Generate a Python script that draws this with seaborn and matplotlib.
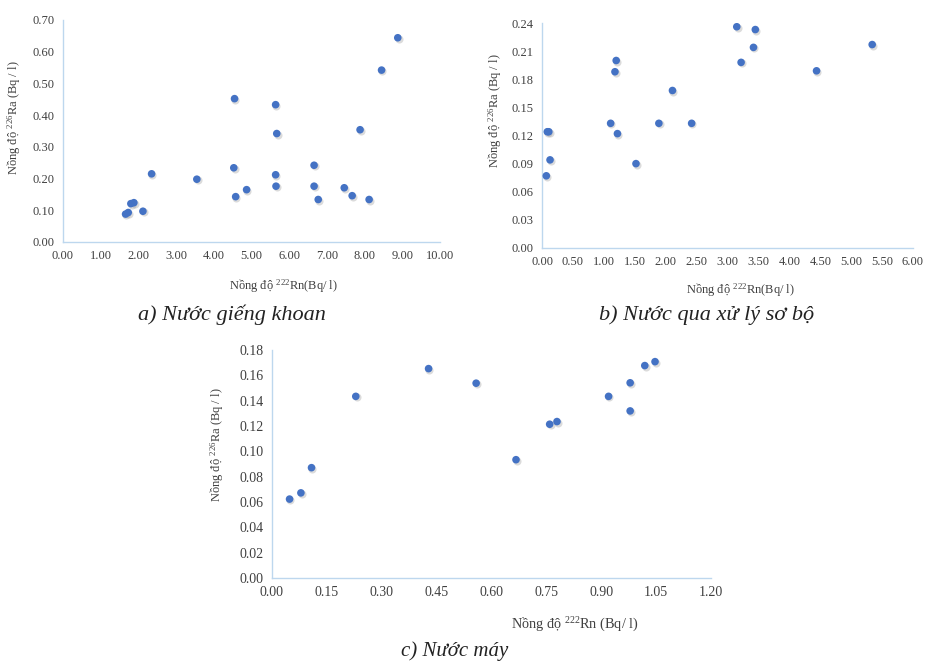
import matplotlib
matplotlib.use('Agg')
import seaborn as sns
import matplotlib.pyplot as plt
from matplotlib.ticker import FormatStrFormatter

# a) Nuoc gieng khoan
rn_a = [1.66, 1.73, 1.80, 1.88, 2.12, 2.35, 3.55, 4.55, 4.53, 4.58, 4.87, 5.64,
        5.67, 5.64, 5.65, 6.66, 6.66, 6.77, 7.46, 7.67, 7.88, 8.12, 8.45, 8.88]
ra_a = [0.088, 0.093, 0.121, 0.124, 0.097, 0.215, 0.198, 0.452, 0.234, 0.143, 0.165, 0.433,
        0.342, 0.212, 0.176, 0.242, 0.176, 0.134, 0.171, 0.146, 0.354, 0.134, 0.542, 0.644]

# b) Nuoc qua xu ly so bo
rn_b = [0.07, 0.086, 0.11, 0.13, 1.11, 1.18, 1.20, 1.22, 1.52, 1.89, 2.11, 2.42,
        3.15, 3.22, 3.42, 3.45, 4.44, 5.34]
ra_b = [0.077, 0.124, 0.124, 0.094, 0.133, 0.188, 0.200, 0.122, 0.090, 0.133, 0.168, 0.133,
        0.236, 0.198, 0.214, 0.233, 0.189, 0.217]

# c) Nuoc may
rn_c = [0.048, 0.079, 0.108, 0.229, 0.428, 0.558, 0.667, 0.759, 0.779, 0.920, 0.979, 0.979,
        1.019, 1.047]
ra_c = [0.0623, 0.0672, 0.0871, 0.1434, 0.1653, 0.1538, 0.0934, 0.1214, 0.1235, 0.1434,
        0.1541, 0.1319, 0.1677, 0.1708]

xlabel_ab = 'Nồng độ $^{222}$Rn(Bq/ l)'
xlabel_c = 'Nồng độ $^{222}$Rn (Bq/ l)'
ylabel = 'Nồng độ $^{226}$Ra (Bq / l)'
captions = ['a) Nước giếng khoan', 'b) Nước qua xử lý sơ bộ', 'c) Nước máy']

sns.set_style('white')
plt.rcParams['font.family'] = ['Liberation Serif', 'DejaVu Serif']
plt.rcParams['mathtext.fontset'] = 'custom'
plt.rcParams['mathtext.rm'] = 'Liberation Serif'
plt.rcParams['mathtext.it'] = 'Liberation Serif:italic'

W, H = 925, 664
fig = plt.figure(figsize=(W / 100, H / 100), dpi=100)


def add_ax(l, t, r, b):
    return fig.add_axes([l / W, 1 - b / H, (r - l) / W, (b - t) / H])


def style(ax, xmax, xstep, ymax, ystep, xlab, xl_pos, yl_pos, tick_fs=9, xl_fs=9):
    ax.set_xlim(0, xmax)
    ax.set_ylim(0, ymax)
    n = int(round(xmax / xstep))
    ax.set_xticks([i * xstep for i in range(n + 1)])
    m = int(round(ymax / ystep))
    ax.set_yticks([i * ystep for i in range(m + 1)])
    ax.xaxis.set_major_formatter(FormatStrFormatter('%.2f'))
    ax.yaxis.set_major_formatter(FormatStrFormatter('%.2f'))
    ax.tick_params(length=0, labelsize=tick_fs, colors='#404040', pad=6)
    for s in ['top', 'right']:
        ax.spines[s].set_visible(False)
    for s in ['left', 'bottom']:
        ax.spines[s].set_color('#BDD7EE')
        ax.spines[s].set_linewidth(1.0)
    ax.set_xlabel(xlab, fontsize=xl_fs, color='#404040', va='center')
    ax.xaxis.set_label_coords(*xl_pos)
    ax.set_ylabel(ylabel, fontsize=9, color='#404040', va='center', ha='center')
    ax.yaxis.set_label_coords(*yl_pos)


def points(ax, x, y):
    # faint shadow like the Excel markers
    ax.scatter(x, y, s=34, color='#9a9a9a', alpha=0.35, linewidths=0, zorder=2,
               transform=ax.transData + matplotlib.transforms.ScaledTranslation(
                   0.6 / 72, -0.8 / 72, fig.dpi_scale_trans))
    sns.scatterplot(x=x, y=y, ax=ax, s=30, color='#4472C4', edgecolor='none',
                    linewidth=0, zorder=3)


ax_a = add_ax(63, 20, 440, 242)
points(ax_a, rn_a, ra_a)
style(ax_a, 10, 1, 0.70, 0.10, xlabel_ab, (0.586, -0.20), (-0.13, 0.56))

ax_b = add_ax(542, 23, 913, 248)
points(ax_b, rn_b, ra_b)
style(ax_b, 6, 0.5, 0.24, 0.03, xlabel_ab, (0.534, -0.187), (-0.127, 0.61))

ax_c = add_ax(272, 350, 711, 578)
points(ax_c, rn_c, ra_c)
style(ax_c, 1.20, 0.15, 0.18, 0.02, xlabel_c, (0.69, -0.206), (-0.125, 0.583),
      tick_fs=10, xl_fs=10.3)

fig.text(232 / W, 1 - 315 / H, captions[0], fontsize=16, style='italic',
         ha='center', va='center', color='#222222')
fig.text(707 / W, 1 - 315 / H, captions[1], fontsize=16, style='italic',
         ha='center', va='center', color='#222222')
fig.text(455 / W, 1 - 651 / H, captions[2], fontsize=15, style='italic',
         ha='center', va='center', color='#222222')

fig.savefig('out.png', dpi=100, facecolor='white')
